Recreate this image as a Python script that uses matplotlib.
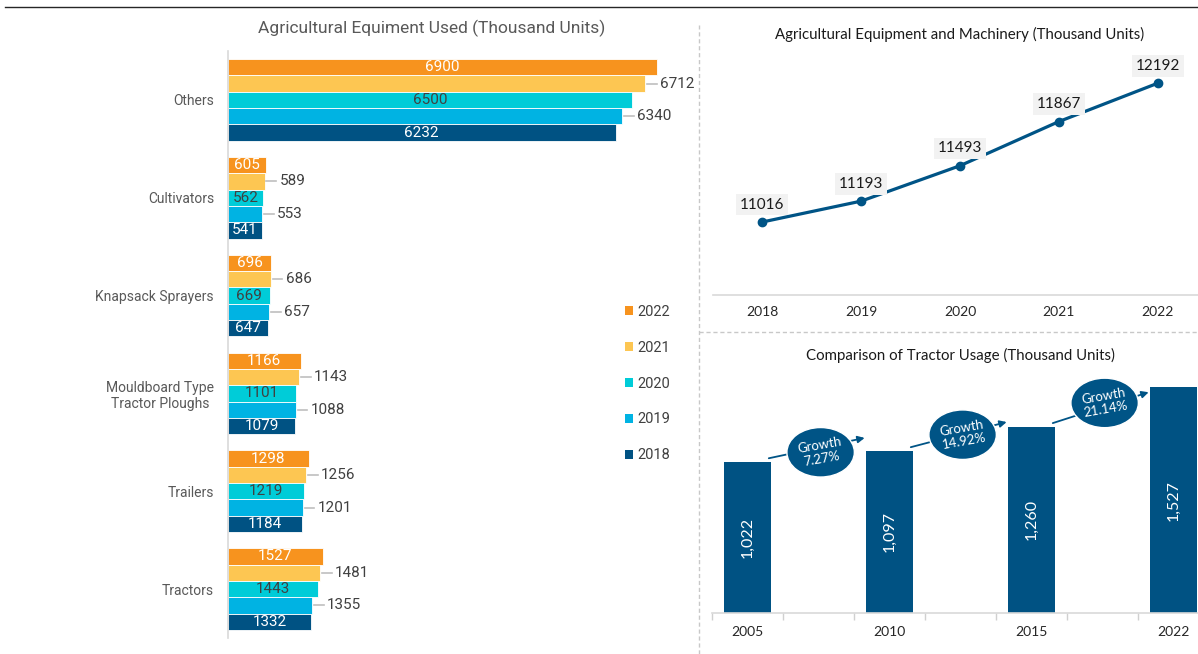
import matplotlib
matplotlib.use("Agg")
import matplotlib.pyplot as plt
from matplotlib.patches import Ellipse, Patch
from matplotlib.lines import Line2D

# ---------------- data ----------------
equipment = ["Others", "Cultivators", "Knapsack Sprayers",
             "Mouldboard Type\nTractor Ploughs", "Trailers", "Tractors"]
years_equipment = ["2022", "2021", "2020", "2019", "2018"]
used_2022 = [6900, 605, 696, 1166, 1298, 1527]
used_2021 = [6712, 589, 686, 1143, 1256, 1481]
used_2020 = [6500, 562, 669, 1101, 1219, 1443]
used_2019 = [6340, 553, 657, 1088, 1201, 1355]
used_2018 = [6232, 541, 647, 1079, 1184, 1332]

machinery_years = ["2018", "2019", "2020", "2021", "2022"]
machinery_total = [11016, 11193, 11493, 11867, 12192]

tractor_years = ["2005", "2010", "2015", "2022"]
tractor_units = [1022, 1097, 1260, 1527]
growth_labels = ["7.27%", "14.92%", "21.14%"]

# ---------------- style ----------------
C_ORANGE = "#F7931E"
C_YELLOW = "#FDC652"
C_TEAL = "#00CCD8"
C_SKY = "#00B3E3"
C_NAVY = "#005283"
LINE_BLUE = "#005486"
GRAY_TXT = "#595959"
DARK_TXT = "#404040"

NARROW = ["Liberation Sans Narrow", "Roboto", "DejaVu Sans"]
REG = ["Lato", "DejaVu Sans"]

W, H = 1198, 654
fig = plt.figure(figsize=(W / 100, H / 100), dpi=100)
fig.patch.set_facecolor("white")


def px_axes(x0, y0, x1, y1):
    return fig.add_axes([x0 / W, 1 - y1 / H, (x1 - x0) / W, (y1 - y0) / H])


# page separators
fig.add_artist(Line2D([5 / W, 1.0], [1 - 7 / H, 1 - 7 / H], color="#262626", lw=1.0))
fig.add_artist(Line2D([699 / W, 699 / W], [0, 1 - 25 / H], color="#c8c8c8",
                      lw=1.0, ls=(0, (3, 2))))
fig.add_artist(Line2D([699 / W, 1.0], [1 - 332 / H, 1 - 332 / H], color="#c8c8c8",
                      lw=1.0, ls=(0, (3, 2))))

# ---------------- left: grouped horizontal bars ----------------
ax1 = px_axes(228, 51, 690, 638)
series = [used_2022, used_2021, used_2020, used_2019, used_2018]
colors = [C_ORANGE, C_YELLOW, C_TEAL, C_SKY, C_NAVY]
h = 0.1667
for j, (vals, col, yr) in enumerate(zip(series, colors, years_equipment)):
    ys = [i + (j - 2) * h for i in range(len(equipment))]
    ax1.barh(ys, vals, height=h, color=col, edgecolor="white", linewidth=0.6, label=yr)
    for y, v in zip(ys, vals):
        if j in (0, 4):
            ax1.text(v / 2, y, f"{v}", ha="center", va="center", color="white",
                     fontsize=11, family=NARROW)
        elif j == 2:
            ax1.text(v / 2, y, f"{v}", ha="center", va="center", color=DARK_TXT,
                     fontsize=11, family=NARROW)
        else:
            ax1.plot([v + 30, v + 190], [y, y], color="#bfbfbf", lw=1.2)
            ax1.text(v + 240, y, f"{v}", ha="left", va="center", color=DARK_TXT,
                     fontsize=11, family=NARROW)

ax1.set_xlim(0, 7430)
ax1.set_ylim(5.5, -0.5)
ax1.set_yticks(range(len(equipment)))
ax1.set_yticklabels(equipment, fontsize=10, color=GRAY_TXT, family=NARROW,
                    multialignment="center")
ax1.tick_params(axis="y", length=0, pad=10)
ax1.set_xticks([])
for s in ["top", "right", "bottom"]:
    ax1.spines[s].set_visible(False)
ax1.spines["left"].set_color("#d9d9d9")
ax1.spines["left"].set_linewidth(1.2)

handles = [Patch(facecolor=c, edgecolor="none") for c in colors]
ax1.legend(handles, years_equipment, loc="upper left", bbox_to_anchor=(0.83, 0.59),
           frameon=False, handlelength=0.55, handleheight=0.55, handletextpad=0.35,
           labelspacing=1.5, prop={"family": NARROW, "size": 10.5},
           labelcolor=DARK_TXT)

fig.text(432 / W, 1 - 28 / H, "Agricultural Equiment Used (Thousand Units)",
         ha="center", va="center", fontsize=12.5, color=GRAY_TXT, family=NARROW)

# ---------------- top right: line chart ----------------
ax2 = px_axes(713, 50, 1207, 295)
xs = list(range(len(machinery_years)))
ax2.plot(xs, machinery_total, color=LINE_BLUE, lw=2.3, marker="o", markersize=6)
for x, v in zip(xs, machinery_total):
    ax2.annotate(f"{v}", (x, v), xytext=(0, 12.5), textcoords="offset points",
                 ha="center", va="center", fontsize=11, color="#1a1a1a", family=REG,
                 bbox=dict(boxstyle="square,pad=0.25", fc="#f2f2f2", ec="none"))
ax2.set_xlim(-0.5, 4.5)
ax2.set_ylim(10397, 12474)
ax2.set_xticks(xs)
ax2.set_xticklabels(machinery_years, fontsize=10, color="#262626", family=REG)
ax2.tick_params(axis="x", length=0, pad=8)
ax2.set_yticks([])
for s in ["top", "right", "left"]:
    ax2.spines[s].set_visible(False)
ax2.spines["bottom"].set_color("#d9d9d9")
ax2.spines["bottom"].set_linewidth(1.2)
fig.text(960 / W, 1 - 34 / H, "Agricultural Equipment and Machinery (Thousand Units)",
         ha="center", va="center", fontsize=10.8, color="#1a1a1a", family=REG)

# ---------------- bottom right: tractor columns ----------------
ax3 = px_axes(712, 373, 1209, 613)
positions = [0, 2, 4, 6]
ax3.bar(positions, tractor_units, width=0.66, color=C_NAVY)
for p, v in zip(positions, tractor_units):
    ax3.text(p, v / 2, f"{v:,}", rotation=90, ha="center", va="center",
             color="white", fontsize=11.5, family=REG)

for k, lab in enumerate(growth_labels):
    a, b = tractor_units[k], tractor_units[k + 1]
    p0, p1 = positions[k], positions[k + 1]
    y0 = a + 25
    y1 = y0 + 110 + 0.37 * (b - a)
    ax3.annotate("", xy=(p1 - 0.35, y1), xytext=(p0 + 0.3, y0),
                 arrowprops=dict(arrowstyle="-|>", color=LINE_BLUE, lw=1.3,
                                 mutation_scale=10, shrinkA=0, shrinkB=0))
    cx, cy = (p0 + p1) / 2 + 0.03, (a + b) / 2 + 28
    ax3.add_patch(Ellipse((cx, cy), 0.95, 335, facecolor=LINE_BLUE,
                          edgecolor="white", lw=1.0, zorder=3))
    ax3.text(cx, cy, f"Growth\n{lab}", ha="center", va="center", rotation=10,
             color="white", fontsize=9.5, family=REG, zorder=4, linespacing=1.15)

ax3.set_xlim(-0.5, 6.5)
ax3.set_ylim(0, 1624)
ax3.set_xticks(positions)
ax3.set_xticklabels(tractor_years, fontsize=10, color="#262626", family=REG)
ax3.tick_params(axis="x", which="major", length=0, pad=9)
ax3.set_xticks([x - 0.5 for x in range(8)], minor=True)
ax3.tick_params(axis="x", which="minor", length=5, color="#d0d0d0", width=1)
ax3.set_yticks([])
for s in ["top", "right", "left"]:
    ax3.spines[s].set_visible(False)
ax3.spines["bottom"].set_color("#d9d9d9")
ax3.spines["bottom"].set_linewidth(1.2)
fig.text(960 / W, 1 - 355 / H, "Comparison of Tractor Usage (Thousand Units)",
         ha="center", va="center", fontsize=10.8, color="#1a1a1a", family=REG)

fig.savefig("out.png", dpi=100, facecolor="white")
